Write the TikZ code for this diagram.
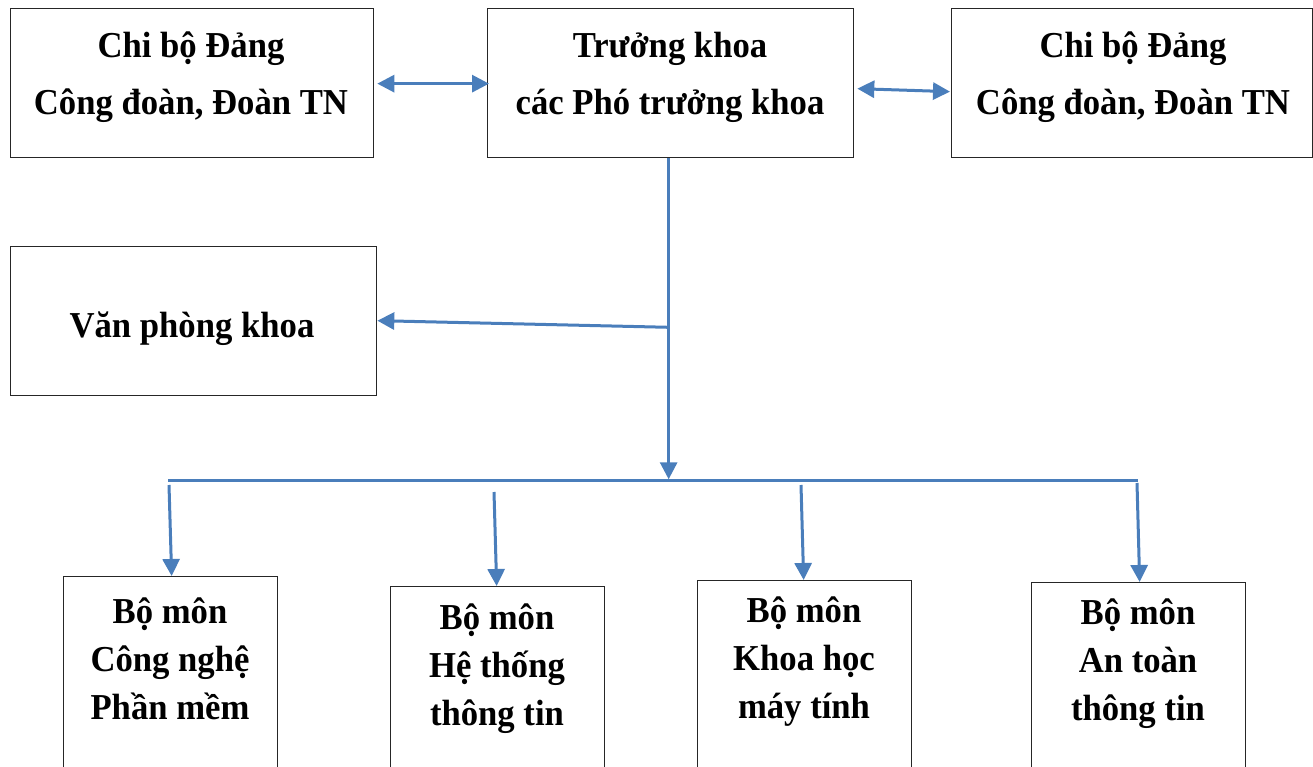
\documentclass[tikz,border=0pt]{standalone}
\usepackage{fontspec}
\setmainfont{Liberation Serif}[FakeStretch=0.95]
\usetikzlibrary{arrows.meta,calc}
\definecolor{conn}{RGB}{74,126,187}
\tikzset{
  box/.style={draw=black!85,line width=1.3pt,rectangle,inner sep=0pt,anchor=north west},
  toptxt/.style={align=center,font=\bfseries\fontsize{36.5}{57}\selectfont,inner sep=0pt},
  bottxt/.style={align=center,font=\bfseries\fontsize{36.5}{48}\selectfont,inner sep=0pt},
  link/.style={draw=conn,line width=3pt},
  arr/.style={link,-{Triangle[length=17pt,width=17pt]}},
  darr/.style={link,{Triangle[length=17pt,width=17pt]}-{Triangle[length=17pt,width=17pt]}}
}
\begin{document}
\begin{tikzpicture}[x=1pt,y=-1pt]
\useasboundingbox (0,0) rectangle (1313,767);
\clip (0,0) rectangle (1313,767);
% boxes
\node[box,minimum width=363pt,minimum height=149pt] (cb1) at (10,8) {};
\node[box,minimum width=366pt,minimum height=149pt] (tk) at (487,8) {};
\node[box,minimum width=361pt,minimum height=149pt] (cb2) at (951,8) {};
\node[box,minimum width=366pt,minimum height=149pt] (vp) at (10,246) {};
\node[box,minimum width=214pt,minimum height=220pt] (b1) at (63,576) {};
\node[box,minimum width=214pt,minimum height=220pt] (b2) at (390,586) {};
\node[box,minimum width=214pt,minimum height=220pt] (b3) at (697,580) {};
\node[box,minimum width=214pt,minimum height=220pt] (b4) at (1031,582) {};
% texts
\node[toptxt] (t1) at (191,77) {Chi bộ Đảng\\Công đoàn, Đoàn TN};
\node[toptxt] (t2) at (670,77) {Trưởng khoa\\các Phó trưởng khoa};
\node[toptxt] (t3) at (1133,77) {Chi bộ Đảng\\Công đoàn, Đoàn TN};
\node[toptxt] (t4) at (192,329) {Văn phòng khoa};
\node[bottxt] (t5) at (170,659) {Bộ môn\\Công nghệ\\Phần mềm};
\node[bottxt] (t6) at (497,669) {Bộ môn\\Hệ thống\\thông tin};
\node[bottxt] (t7) at (804,662) {Bộ môn\\Khoa học\\máy tính};
\node[bottxt] (t8) at (1138,664) {Bộ môn\\An toàn\\thông tin};
% connector points
\coordinate (p1) at ($(cb1.east)+(3,0.5)$);
\coordinate (p2) at ($(tk.west)+(2,0.5)$);
\coordinate (p3) at ($(tk.east)+(3,5.5)$);
\coordinate (p4) at ($(cb2.west)+(-1,8.5)$);
\coordinate (top) at ($(tk.south)+(-2,0)$);
\coordinate (j1) at ($(tk.south)+(-2,169)$);
\coordinate (j2) at ($(tk.south)+(-2,321)$);
\coordinate (vpe) at ($(vp.east)+(0,-0.5)$);
\coordinate (busL) at (168,480);
\coordinate (busR) at (1138,480);
\coordinate (s1) at (169,485);
\coordinate (s2) at (494,492);
\coordinate (s3) at (801,485);
\coordinate (s4) at (1137,483);
% connectors
\draw[darr] (p1) -- (p2);
\draw[darr] (p3) -- (p4);
\draw[arr] (top) -- (j2);
\draw[arr] (j1) -- (vpe);
\draw[link] (busL) -- (busR);
\draw[arr] (s1) -- ($(b1.north)+(1,0)$);
\draw[arr] (s2) -- ($(b2.north)+(-1,0)$);
\draw[arr] (s3) -- ($(b3.north)+(-1,0)$);
\draw[arr] (s4) -- ($(b4.north)+(1,0)$);
\end{tikzpicture}
\end{document}
